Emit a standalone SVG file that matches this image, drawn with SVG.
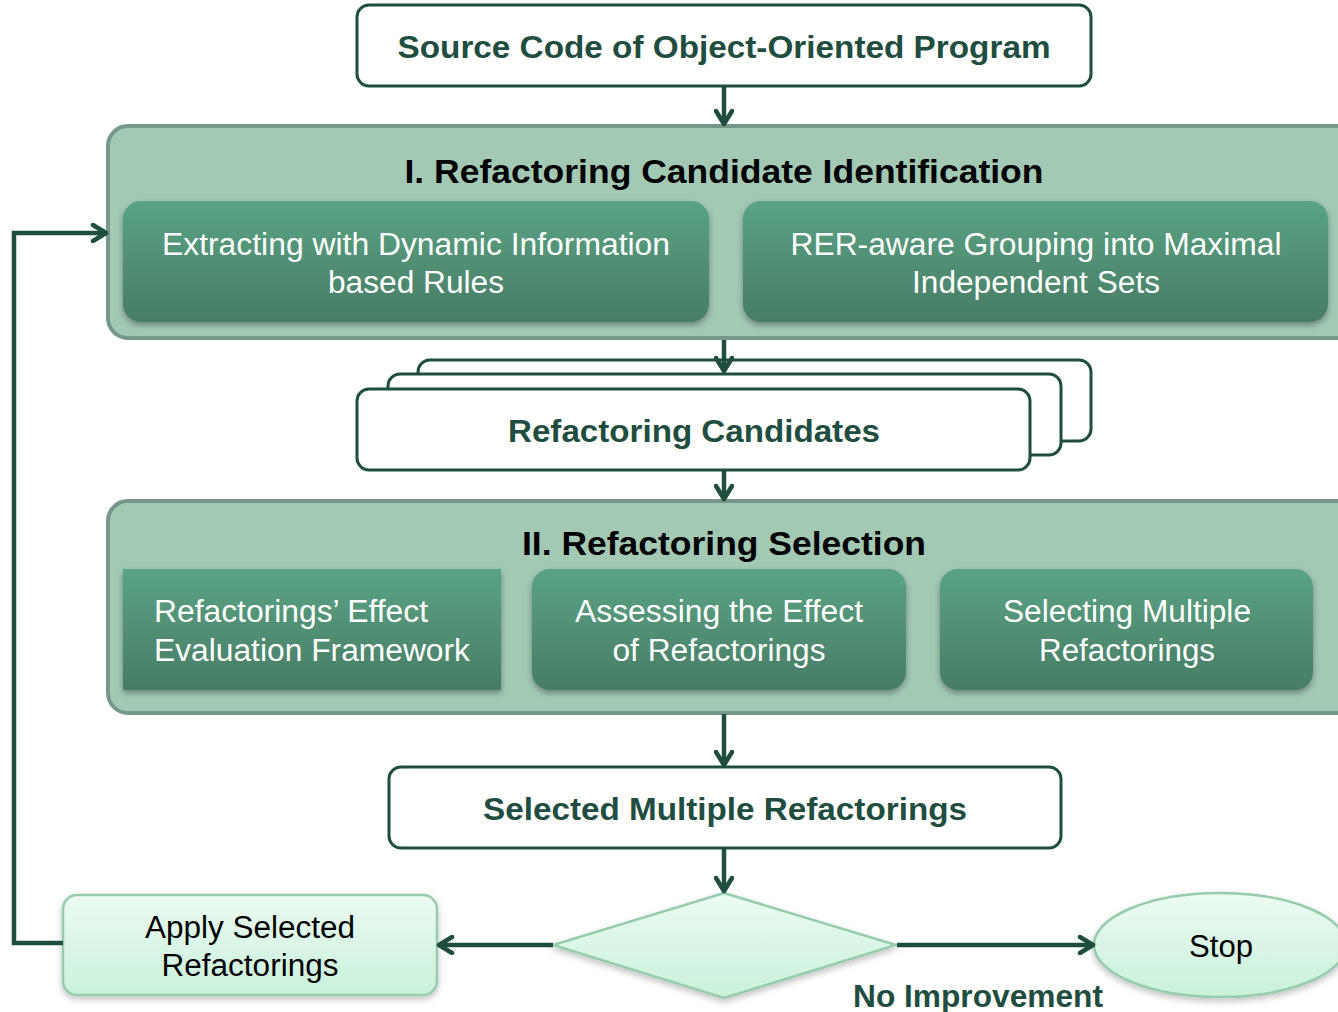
<svg xmlns="http://www.w3.org/2000/svg" width="1338" height="1012" viewBox="0 0 1338 1012">
<style>
.wbox{fill:#ffffff;stroke:#1f4d40;stroke-width:3}
.panel{fill:#a3c9b4;stroke:#779788;stroke-width:4}
.inner{fill:url(#gInner);filter:url(#sh)}
.light{fill:url(#gLight);stroke:#97cbae;stroke-width:2.5;filter:url(#sh2)}
.conn{fill:none;stroke:#1f4d40;stroke-width:4.5}
.tb{font-family:"Liberation Sans",Arial,sans-serif;font-weight:bold;font-size:32px;fill:#1f4d40}
.tt{font-family:"Liberation Sans",Arial,sans-serif;font-weight:bold;font-size:33px;fill:#000000}
.tw{font-family:"Liberation Sans",Arial,sans-serif;font-size:31px;fill:#ffffff}
.tk{font-family:"Liberation Sans",Arial,sans-serif;font-size:31px;fill:#000000}
</style>
<defs>
<linearGradient id="gInner" x1="0" y1="0" x2="0" y2="1">
<stop offset="0" stop-color="#5aa384"/>
<stop offset="1" stop-color="#487c65"/>
</linearGradient>
<linearGradient id="gLight" x1="0" y1="0" x2="0" y2="1">
<stop offset="0" stop-color="#ecfbf2"/>
<stop offset="1" stop-color="#c9f0da"/>
</linearGradient>
<filter id="sh" x="-5%" y="-10%" width="110%" height="125%">
<feDropShadow dx="0" dy="3" stdDeviation="3" flood-color="#000" flood-opacity="0.35"/>
</filter>
<filter id="sh2" x="-5%" y="-10%" width="110%" height="125%">
<feDropShadow dx="0" dy="3" stdDeviation="3" flood-color="#000" flood-opacity="0.25"/>
</filter>
<marker id="arr" viewBox="0 0 20 20" refX="17" refY="10" markerWidth="20" markerHeight="20" markerUnits="userSpaceOnUse" orient="auto">
<path d="M4,2 L17,10 L4,18" fill="none" stroke="#1f4d40" stroke-width="4.5" stroke-linecap="round" stroke-linejoin="round"/>
</marker>
</defs>

<g id="panel-1">
<rect class="panel" x="108" y="126" width="1250" height="212" rx="20"/>
<text class="tt" x="724" y="183" text-anchor="middle" textLength="639" lengthAdjust="spacingAndGlyphs">I. Refactoring Candidate Identification</text>
</g>
<g id="panel-2">
<rect class="panel" x="108" y="501" width="1250" height="212" rx="20"/>
<text class="tt" x="724" y="555" text-anchor="middle" textLength="404" lengthAdjust="spacingAndGlyphs">II. Refactoring Selection</text>
</g>

<g id="source">
<rect class="wbox" x="357" y="5" width="734" height="81" rx="12"/>
<text class="tb" x="724" y="58" text-anchor="middle" textLength="653" lengthAdjust="spacingAndGlyphs">Source Code of Object-Oriented Program</text>
</g>

<g id="extract">
<rect class="inner" x="123" y="201" width="586" height="121" rx="18"/>
<text class="tw" x="416" y="255" text-anchor="middle" textLength="508" lengthAdjust="spacingAndGlyphs">Extracting with Dynamic Information</text>
<text class="tw" x="416" y="293" text-anchor="middle" textLength="176" lengthAdjust="spacingAndGlyphs">based Rules</text>
</g>
<g id="grouping">
<rect class="inner" x="743" y="201" width="585" height="121" rx="18"/>
<text class="tw" x="1036" y="255" text-anchor="middle" textLength="491" lengthAdjust="spacingAndGlyphs">RER-aware Grouping into Maximal</text>
<text class="tw" x="1036" y="293" text-anchor="middle" textLength="248" lengthAdjust="spacingAndGlyphs">Independent Sets</text>
</g>

<g id="candidates">
<rect class="wbox" x="418" y="360" width="673" height="81" rx="12"/>
<rect class="wbox" x="388" y="374" width="673" height="81" rx="12"/>
<rect class="wbox" x="357" y="389" width="673" height="81" rx="12"/>
<text class="tb" x="694" y="442" text-anchor="middle" textLength="372" lengthAdjust="spacingAndGlyphs">Refactoring Candidates</text>
</g>

<g id="framework">
<rect class="inner" x="123" y="569" width="378" height="121"/>
<text class="tw" x="154" y="622" textLength="274" lengthAdjust="spacingAndGlyphs">Refactorings’ Effect</text>
<text class="tw" x="154" y="661" textLength="316" lengthAdjust="spacingAndGlyphs">Evaluation Framework</text>
</g>
<g id="assessing">
<rect class="inner" x="532" y="569" width="374" height="121" rx="18"/>
<text class="tw" x="719" y="622" text-anchor="middle" textLength="288" lengthAdjust="spacingAndGlyphs">Assessing the Effect</text>
<text class="tw" x="719" y="661" text-anchor="middle" textLength="213" lengthAdjust="spacingAndGlyphs">of Refactorings</text>
</g>
<g id="selecting">
<rect class="inner" x="940" y="569" width="373" height="121" rx="18"/>
<text class="tw" x="1127" y="622" text-anchor="middle" textLength="248" lengthAdjust="spacingAndGlyphs">Selecting Multiple</text>
<text class="tw" x="1127" y="661" text-anchor="middle" textLength="176" lengthAdjust="spacingAndGlyphs">Refactorings</text>
</g>

<g id="selected">
<rect class="wbox" x="389" y="767" width="672" height="81" rx="12"/>
<text class="tb" x="725" y="820" text-anchor="middle" textLength="484" lengthAdjust="spacingAndGlyphs">Selected Multiple Refactorings</text>
</g>

<g id="decision">
<polygon class="light" points="724,893 896,945 724,998 553,945"/>
</g>

<g id="apply">
<rect class="light" x="63" y="895" width="374" height="100" rx="14"/>
<text class="tk" x="250" y="938" text-anchor="middle" textLength="210" lengthAdjust="spacingAndGlyphs">Apply Selected</text>
<text class="tk" x="250" y="976" text-anchor="middle" textLength="177" lengthAdjust="spacingAndGlyphs">Refactorings</text>
</g>

<g id="stop">
<ellipse class="light" cx="1220" cy="945" rx="126" ry="52"/>
<text class="tk" x="1221" y="957" text-anchor="middle" textLength="64" lengthAdjust="spacingAndGlyphs">Stop</text>
</g>

<g id="connectors">
<line class="conn" x1="724" y1="86" x2="724" y2="124" marker-end="url(#arr)"/>
<line class="conn" x1="724" y1="340" x2="724" y2="371" marker-end="url(#arr)"/>
<line class="conn" x1="724" y1="471" x2="724" y2="499" marker-end="url(#arr)"/>
<line class="conn" x1="724" y1="714" x2="724" y2="765" marker-end="url(#arr)"/>
<line class="conn" x1="724" y1="849" x2="724" y2="891" marker-end="url(#arr)"/>
<line class="conn" x1="553" y1="945" x2="439" y2="945" marker-end="url(#arr)"/>
<line class="conn" x1="897" y1="945" x2="1093" y2="945" marker-end="url(#arr)"/>
<polyline class="conn" points="63,943 14,943 14,233 106,233" marker-end="url(#arr)"/>
<text class="tb" x="978" y="1007" text-anchor="middle" textLength="250" lengthAdjust="spacingAndGlyphs">No Improvement</text>
</g>
</svg>
